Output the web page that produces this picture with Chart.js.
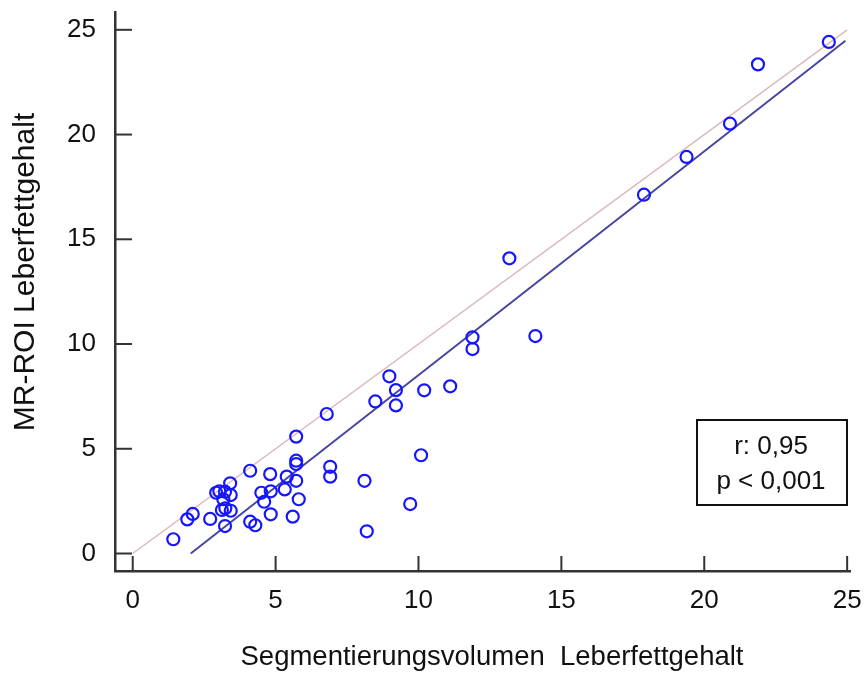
<!DOCTYPE html>
<html>
<head>
<meta charset="utf-8">
<script src="https://cdn.jsdelivr.net/npm/chart.js@4/dist/chart.umd.min.js"></script>
<style>
  html,body{margin:0;padding:0;background:#fff;}
  #wrap{width:868px;height:673px;}
</style>
</head>
<body>
<div id="wrap"><canvas id="c" width="868" height="673"></canvas></div>
<script>
// Messwerte (Segmentierungsvolumen vs. MR-ROI)
const segVol=[1.42,1.91,2.10,2.71,2.92,3.03,3.23,3.41,3.43,3.17,3.12,3.24,3.43,3.23,4.11,4.11,4.29,4.50,4.60,4.81,4.83,4.83,5.32,5.39,5.72,5.72,5.72,5.72,5.81,5.60,6.79,6.91,6.91,8.11,8.19,8.49,8.98,9.21,9.21,9.71,10.09,10.20,11.11,11.89,11.89,13.18,14.09,17.89,19.38,20.90,21.88,24.36];
const mrRoi =[0.68,1.63,1.89,1.65,2.90,2.97,2.95,3.35,2.79,2.59,2.08,2.16,2.04,1.31,3.95,1.52,1.35,2.90,2.47,3.79,2.97,1.87,3.06,3.67,5.58,4.43,4.27,3.47,2.59,1.76,6.66,4.14,3.67,3.47,1.06,7.26,8.46,7.80,7.07,2.36,4.69,7.79,7.98,10.32,9.76,14.09,10.38,17.13,18.93,20.52,23.35,24.42];
// Identitätslinie und Regressionsgerade (Endpunkte)
const identX=[0,25], identY=[0,25];
const regX=[2.03,24.94], regY=[0,24.48];
const tickVals=[0,5,10,15,20,25];
const statLines=['r: 0,95','p < 0,001'];
const xTitle='Segmentierungsvolumen  Leberfettgehalt';
const yTitle='MR-ROI Leberfettgehalt';

const FONT='"Liberation Sans", Arial, sans-serif';
const pts=(xs,ys)=>xs.map((x,i)=>({x,y:ys[i]}));

const decor={
  id:'decor',
  afterDraw(chart){
    const {ctx,chartArea:a,scales:{x,y}}=chart;
    ctx.save();
    ctx.strokeStyle='#333';ctx.lineWidth=2;
    tickVals.forEach(v=>{
      const px=x.getPixelForValue(v);
      ctx.beginPath();ctx.moveTo(px,a.bottom);ctx.lineTo(px,a.bottom-15);ctx.stroke();
      const py=y.getPixelForValue(v);
      ctx.beginPath();ctx.moveTo(a.left,py);ctx.lineTo(a.left+17,py);ctx.stroke();
    });
    // Achsentitel
    ctx.fillStyle='#111';ctx.textAlign='center';ctx.textBaseline='middle';
    ctx.font='27.5px '+FONT;
    ctx.fillText(xTitle,492,657);
    ctx.translate(26,272);ctx.rotate(-Math.PI/2);
    ctx.font='30px '+FONT;
    ctx.fillText(yTitle,0,0);
    ctx.restore();
    // Statistik-Box
    ctx.save();
    ctx.strokeStyle='#111';ctx.lineWidth=2;
    ctx.strokeRect(697,420,150,85);
    ctx.fillStyle='#111';ctx.font='26px '+FONT;ctx.textAlign='center';ctx.textBaseline='middle';
    ctx.fillText(statLines[0],771,447);
    ctx.fillText(statLines[1],771,482);
    ctx.restore();
  }
};

new Chart(document.getElementById('c').getContext('2d'),{
  type:'scatter',
  data:{datasets:[
    {label:'ident',type:'line',data:pts(identX,identY),borderColor:'#ddb8b8',borderWidth:1.5,pointRadius:0,fill:false,order:3},
    {label:'reg',type:'line',data:pts(regX,regY),borderColor:'#4646a0',borderWidth:2,pointRadius:0,fill:false,order:2},
    {label:'werte',data:pts(segVol,mrRoi),backgroundColor:'rgba(0,0,0,0)',borderColor:'#1515ff',borderWidth:2.2,pointRadius:6,order:1},
  ]},
  options:{
    responsive:false,animation:false,
    layout:{padding:{left:0,top:12,right:18,bottom:0}},
    plugins:{legend:{display:false},tooltip:{enabled:false}},
    scales:{
      x:{type:'linear',min:-0.62,max:25.1,
        afterBuildTicks:s=>{s.ticks=tickVals.map(v=>({value:v}));},
        afterFit:s=>{s.height=102;s.paddingLeft=0;s.paddingRight=0;},
        grid:{display:false,drawTicks:false},
        border:{display:true,color:'#333',width:2.5},
        ticks:{color:'#111',padding:14,font:{family:FONT,size:26}}},
      y:{type:'linear',min:-0.835,max:25.85,
        afterBuildTicks:s=>{s.ticks=tickVals.map(v=>({value:v}));},
        afterFit:s=>{s.width=115;s.paddingTop=0;s.paddingBottom=0;},
        grid:{display:false,drawTicks:false},
        border:{display:true,color:'#333',width:2.5},
        ticks:{color:'#111',padding:19,font:{family:FONT,size:26}}}
    }
  },
  plugins:[decor]
});
</script>
</body>
</html>
